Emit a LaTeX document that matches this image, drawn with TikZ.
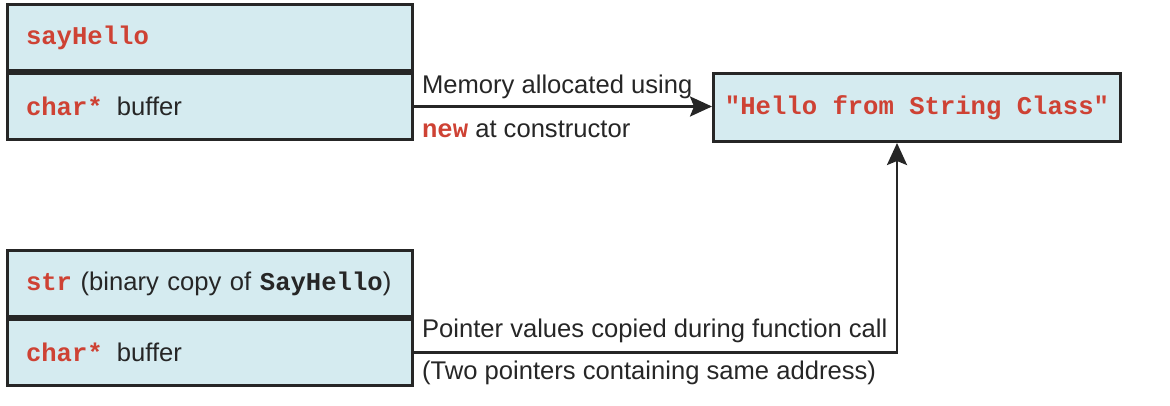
\documentclass[tikz,border=0pt]{standalone}
\usepackage{fontspec}
\setmainfont{Liberation Sans}
\setmonofont{Liberation Mono}
\usetikzlibrary{arrows.meta, positioning}
\definecolor{cellblue}{RGB}{213,235,240}
\definecolor{codered}{RGB}{206,66,52}
\definecolor{inkgray}{RGB}{38,38,38}
\newcommand{\codetxt}[1]{{\ttfamily\bfseries\color{codered}#1}}

\begin{document}
\begin{tikzpicture}[
    node distance=0pt,
    cell/.style={draw=inkgray, line width=1.5pt, fill=cellblue, minimum width=202.5pt, minimum height=33pt,
      text width=184pt, inner xsep=9.25pt, align=left, text=inkgray, font=\fontsize{12.8}{15}\selectfont},
    target/.style={draw=inkgray, line width=1.5pt, fill=cellblue, minimum width=203.5pt, minimum height=34pt,
      align=center, font=\fontsize{12.8}{15}\selectfont},
    lbl/.style={text=inkgray, font=\fontsize{12.8}{15}\selectfont},
    link/.style={draw=inkgray, line width=1.4pt, -{Stealth[length=11pt, width=10pt, inset=2pt]}},
    >=Stealth]
  \useasboundingbox (0,0) rectangle (585pt,203pt);
  % object sayHello
  \node[cell, anchor=north west] (hello) at (3pt,201.5pt) {\codetxt{sayHello}};
  \node[cell, below=of hello] (hellobuf) {\codetxt{char*}\hspace{0.55em}buffer};
  % string on the heap
  \node[target, right=149pt of hellobuf, yshift=-0.5pt] (msg) {\codetxt{"Hello from String Class"}};
  % binary copy str
  \node[cell, below=54pt of hellobuf] (str) {\codetxt{str} (binary copy of {\ttfamily\bfseries SayHello})};
  \node[cell, below=of str] (strbuf) {\codetxt{char*}\hspace{0.55em}buffer};
  \draw[link] (hellobuf.east) -- (hellobuf.east -| msg.west)
    node[lbl, pos=0, anchor=south west] {Memory allocated using}
    node[lbl, pos=0, anchor=north west, yshift=-3pt] {\codetxt{new} at constructor};
  \draw[link] (strbuf.east) -| ([xshift=-10pt]msg.south)
    node[lbl, pos=0, anchor=south west, yshift=1pt] {Pointer values copied during function call}
    node[lbl, pos=0, anchor=north west] {(Two pointers containing same address)};
\end{tikzpicture}
\end{document}
